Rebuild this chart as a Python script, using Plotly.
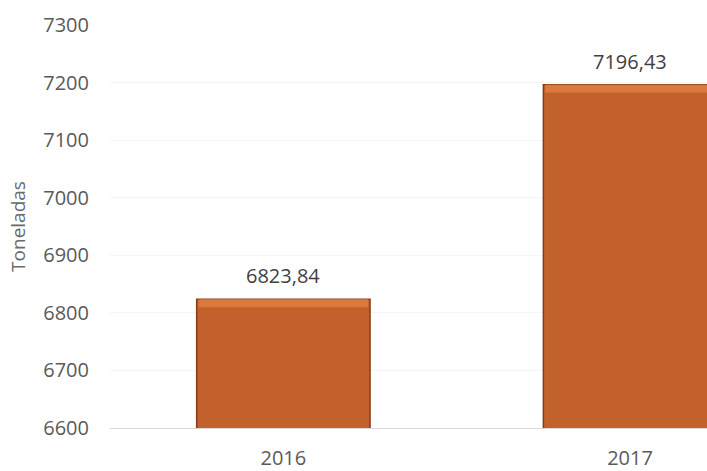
import plotly.graph_objects as go

years = ["2016", "2017"]
values = [6823.84, 7196.43]
value_labels = ["6823,84", "7196,43"]
y_ticks = [6600, 6700, 6800, 6900, 7000, 7100, 7200, 7300]

font_family = "Open Sans"
text_color = "#5a5a5a"

fig = go.Figure()

# main bars
fig.add_trace(go.Bar(
    x=years, y=values,
    marker=dict(color="#c2612c", line=dict(color="#8a3a1a", width=1.5)),
    width=0.5,
    hoverinfo="skip",
))
# lighter top bevel strip
bevel = 14
fig.add_trace(go.Bar(
    x=years, y=[bevel] * len(values),
    base=[v - bevel for v in values],
    marker=dict(color="#d9793c", line=dict(width=0)),
    width=0.49,
    hoverinfo="skip",
))

# value labels (category index positions)
for i, (v, t) in enumerate(zip(values, value_labels)):
    fig.add_annotation(x=i, y=v, xref="x", yref="y", text=t, showarrow=False,
                       yanchor="bottom", yshift=8,
                       font=dict(family=font_family, size=20, color="#3f3f3f"))

fig.update_layout(
    width=707, height=471,
    margin=dict(l=110, r=0, t=25, b=39),
    paper_bgcolor="white", plot_bgcolor="white",
    barmode="overlay",
    showlegend=False,
    font=dict(family=font_family, size=20, color=text_color),
)
fig.update_xaxes(
    type="category",
    range=[-0.5, 1.222],
    showgrid=False,
    showline=True, linecolor="#d9d9d9", linewidth=1,
    ticks="", ticklabelstandoff=12,
    tickfont=dict(size=20, color=text_color),
)
fig.update_yaxes(
    range=[6600, 7300],
    tickvals=y_ticks,
    showgrid=True, gridcolor="#f5f5f5", gridwidth=1,
    zeroline=False, showline=False,
    ticks="", ticklabelstandoff=20,
    tickfont=dict(size=20, color=text_color),
    title=dict(text="Toneladas", font=dict(size=19, color="#6a6a6a"), standoff=12),
)

fig.write_html("out.html")
